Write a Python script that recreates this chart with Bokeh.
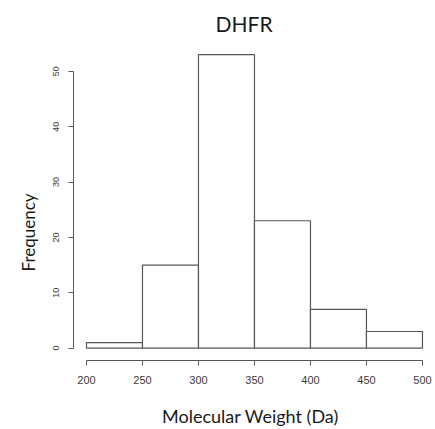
from bokeh.plotting import figure
from bokeh.models import ColumnDataSource, FixedTicker, Title
from bokeh.embed import file_html
from bokeh.resources import INLINE

# Histogram data (molecular weight bins, Da)
bin_left = [200, 250, 300, 350, 400, 450]
bin_right = [250, 300, 350, 400, 450, 500]
counts = [1, 15, 53, 23, 7, 3]
x_ticks = [200, 250, 300, 350, 400, 450, 500]
y_ticks = [0, 10, 20, 30, 40, 50]

src = ColumnDataSource(dict(left=bin_left, right=bin_right, top=counts,
                            bottom=[0] * len(counts)))

p = figure(width=435, height=429, output_backend="svg", toolbar_location=None,
           x_range=(188.4, 504.5), y_range=(-2.24, 55.2),
           min_border_left=73, min_border_right=8, min_border_top=42,
           min_border_bottom=67, title="DHFR")
p.outline_line_color = None
p.xgrid.visible = False
p.ygrid.visible = False
p.background_fill_color = "white"
p.border_fill_color = "white"

p.title.align = "left"
p.title.offset = 142
p.title.text_font = "Lato"
p.title.text_font_style = "normal"
p.title.text_font_size = "21px"
p.title.text_color = "#1a1a1a"
p.title.standoff = 13

p.quad(left="left", right="right", top="top", bottom="bottom", source=src,
       fill_color="white", line_color="#555555", line_width=1.2)

for ax in (p.xaxis[0], p.yaxis[0]):
    ax.axis_line_color = "#555555"
    ax.major_tick_line_color = "#555555"
    ax.major_tick_out = 5
    ax.major_tick_in = 0
    ax.minor_tick_line_color = None
    ax.major_label_text_font = "Liberation Sans"
    ax.major_label_text_color = "#3a3a3a"

xa = p.xaxis[0]
xa.ticker = FixedTicker(ticks=x_ticks)
xa.bounds = (200, 500)
xa.major_label_text_font_size = "11px"
xa.major_label_standoff = 10
xa.axis_label = "Molecular Weight (Da)"
xa.axis_label_text_font = "Lato"
xa.axis_label_text_font_style = "normal"
xa.axis_label_text_font_size = "18px"
xa.axis_label_text_color = "#1a1a1a"
xa.axis_label_standoff = 18

ya = p.yaxis[0]
ya.ticker = FixedTicker(ticks=y_ticks)
ya.bounds = (0, 50)
ya.major_label_text_font_size = "9px"
ya.major_label_orientation = "vertical"
ya.major_label_standoff = 9

freq = Title(text="Frequency", align="left", offset=89, standoff=24,
             text_font="Lato", text_font_style="normal", text_font_size="17px",
             text_color="#1a1a1a")
p.add_layout(freq, "left")

open("out.html", "w").write(file_html(p, INLINE))
